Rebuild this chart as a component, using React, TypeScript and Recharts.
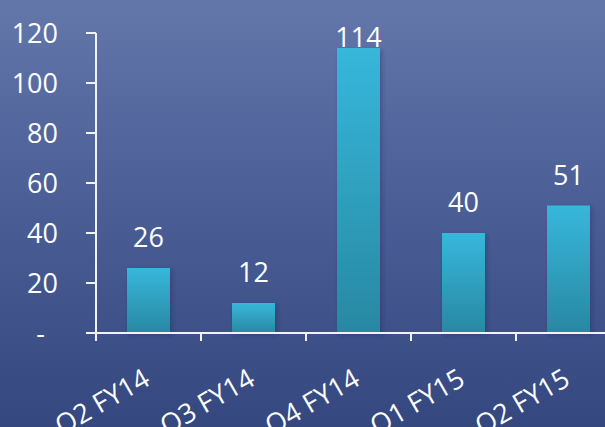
import { BarChart, Bar, XAxis, YAxis, LabelList } from "recharts"

const quarters = ["Q2 FY14", "Q3 FY14", "Q4 FY14", "Q1 FY15", "Q2 FY15"]
const values = [26, 12, 114, 40, 51]
const yTicks = [0, 20, 40, 60, 80, 100, 120]
const xBounds = [0, 1, 2, 3, 4, 5]

// bars sit in the middle of each slot, ticks mark the slot edges
const data = quarters.map((q, i) => ({ pos: i + 0.5, quarter: q, value: values[i] }))

const FONT = "'Open Sans', sans-serif"
const SIZE = 27
const AXIS = "#f2f2f2"

const YTick = (props: any) => {
  const { x, y, payload } = props
  const zero = payload.value === 0
  return (
    <text
      x={zero ? x - 13 : x}
      y={y}
      dy="0.355em"
      textAnchor="end"
      fill="#ffffff"
      fontSize={SIZE}
      fontFamily={FONT}
    >
      {zero ? "-" : payload.value}
    </text>
  )
}

const NoLabel = () => <g />

const ValueLabel = (props: any) => {
  const { x, y, width, value } = props
  const base = Math.max(y - 21, 47)
  return (
    <text x={x + width / 2} y={base} textAnchor="middle" fill="#ffffff" fontSize={SIZE} fontFamily={FONT}>
      {value}
    </text>
  )
}

const QuarterLabel = (props: any) => {
  const { x, y, width, height, value } = props
  const ax = x + width / 2 + 3
  const ay = y + height + 51
  return (
    <text
      x={ax}
      y={ay}
      transform={`rotate(-30, ${ax}, ${ay})`}
      textAnchor="end"
      fill="#ffffff"
      fontSize={SIZE}
      fontFamily={FONT}
    >
      {value}
    </text>
  )
}

export default function App() {
  return (
    <div
      style={{
        position: "fixed",
        top: 0,
        left: 0,
        width: 605,
        height: 427,
        overflow: "hidden",
        background: "linear-gradient(180deg, #6477aa 0%, #4c5f97 45%, #34477f 100%)",
      }}
    >
      <BarChart width={621} height={427} data={data} margin={{ top: 33, right: 0, left: 0, bottom: 0 }}>
        <defs>
          <linearGradient id="barFill" x1="0" y1="0" x2="0" y2="1">
            <stop offset="0%" stopColor="#37b7db" />
            <stop offset="100%" stopColor="#2888a2" />
          </linearGradient>
          <filter id="barShadow" x="-20%" y="-20%" width="140%" height="140%">
            <feDropShadow dx="2" dy="2" stdDeviation="2" floodColor="#1a2550" floodOpacity="0.35" />
          </filter>
        </defs>
        <XAxis
          dataKey="pos"
          type="number"
          domain={[0, 5]}
          ticks={xBounds}
          tick={<NoLabel />}
          height={94}
          tickSize={8}
          axisLine={{ stroke: AXIS, strokeWidth: 2 }}
          tickLine={{ stroke: AXIS, strokeWidth: 2 }}
        />
        <YAxis
          domain={[0, 120]}
          ticks={yTicks}
          width={96}
          tickSize={10}
          tickMargin={28}
          tick={<YTick />}
          axisLine={{ stroke: AXIS, strokeWidth: 2 }}
          tickLine={{ stroke: AXIS, strokeWidth: 2 }}
        />
        <Bar dataKey="value" barSize={43} fill="url(#barFill)" filter="url(#barShadow)" isAnimationActive={false}>
          <LabelList dataKey="value" content={<ValueLabel />} />
          <LabelList dataKey="quarter" content={<QuarterLabel />} />
        </Bar>
      </BarChart>
    </div>
  )
}
